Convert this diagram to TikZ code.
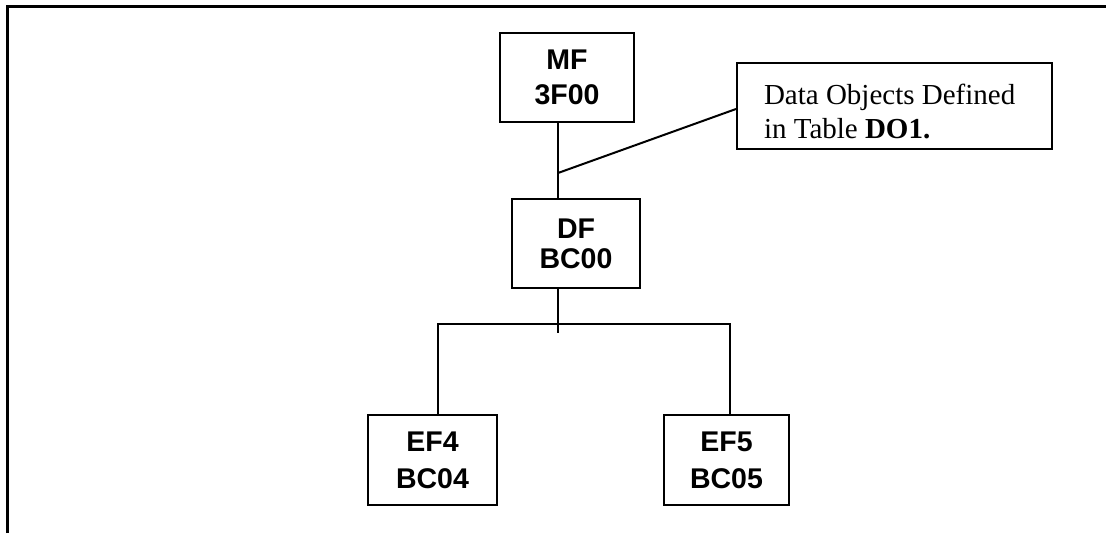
\documentclass[tikz,border=0pt]{standalone}
\usepackage{fontspec}
\setmainfont{Liberation Serif}
\setsansfont{Liberation Sans}
\usetikzlibrary{calc}
\begin{document}
\begin{tikzpicture}[x=1pt,y=-1pt,line width=2pt,
  filebox/.style={draw, rectangle, inner sep=0pt, align=center,
    font=\sffamily\bfseries\fontsize{28.5}{35}\selectfont},
  conn/.style={draw, line width=2pt},
  frameline/.style={draw, line width=2.2pt}]
\useasboundingbox (0,0) rectangle (1106,533);
% outer frame
\draw[frameline] (7.5,533) -- (7.5,6.5) -- (1106,6.5);
% file boxes
\node[filebox, minimum width=134pt, minimum height=89pt] (MF) at (567,77.5) {MF\\3F00};
\node[filebox, minimum width=128pt, minimum height=89pt,
  font=\sffamily\bfseries\fontsize{28.5}{30}\selectfont] (DF) at (576,243.5) {DF\\BC00};
\node[filebox, minimum width=129pt, minimum height=90pt,
  font=\sffamily\bfseries\fontsize{28.5}{37}\selectfont] (EF4) at (432.5,460) {EF4\\BC04};
\node[filebox, minimum width=125pt, minimum height=90pt,
  font=\sffamily\bfseries\fontsize{28.5}{37}\selectfont] (EF5) at (726.5,460) {EF5\\BC05};
% callout
\node[draw, rectangle, inner sep=0pt, minimum width=315pt, minimum height=86pt] (callout) at (894.5,106) {};
\node[anchor=north west, inner sep=0pt, align=left,
  font=\fontsize{29}{34}\selectfont] (callouttext) at (763,83)
  {Data Objects Defined\\in Table \textbf{DO1.}};
% junction coordinates
\coordinate (trunk) at (558,173);
\coordinate (stub) at (558,333);
\coordinate (busL) at (438,324);
\coordinate (busR) at (730,324);
% connectors
\draw[conn] (trunk |- MF.south) -- (trunk |- DF.north);
\draw[conn] (trunk) -- ($(callout.west)+(0,3)$);
\draw[conn] (trunk |- DF.south) -- (stub);
\draw[conn] (busL |- EF4.north) -- (busL) -- (busR) -- (busR |- EF5.north);
\end{tikzpicture}
\end{document}
